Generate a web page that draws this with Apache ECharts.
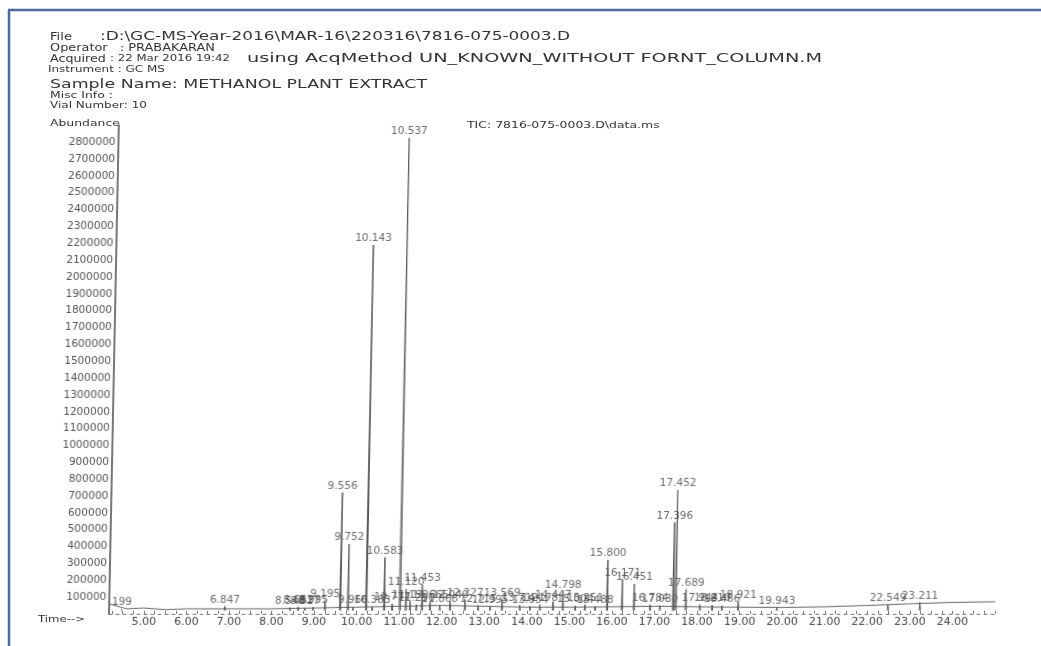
<!DOCTYPE html>
<html><head><meta charset="utf-8">
<script src="https://cdn.jsdelivr.net/npm/echarts@6/dist/echarts.min.js"></script>
<style>
html,body{margin:0;padding:0;background:#fff;}
#plot,#head{position:absolute;left:0;top:0;width:1041px;height:646px;}
#plot{transform:skewX(-1.15deg);transform-origin:0 614px;}
#head{pointer-events:none;}
</style></head><body>
<div id="plot"></div><div id="head"></div>
<script>
// ---- data ----
const peakTimes = [4.48, 6.90, 8.43, 8.62, 8.78, 8.97, 9.25, 9.61, 9.79, 9.91, 10.22, 10.36, 10.64, 10.83, 11.01, 11.15, 11.25, 11.40, 11.53, 11.72, 11.95, 12.19, 12.54, 12.85, 13.13, 13.41, 13.83, 14.07, 14.30, 14.61, 14.84, 15.13, 15.36, 15.60, 15.88, 16.23, 16.51, 16.89, 17.12, 17.43, 17.49, 17.73, 18.06, 18.35, 18.58, 18.96, 19.87, 22.48, 23.23];
const peakHeights = [30000, 45000, 38000, 42000, 36000, 40000, 80000, 720000, 415000, 40000, 2190000, 42000, 335000, 60000, 2825000, 148000, 75000, 55000, 172000, 70000, 50000, 75000, 86000, 50000, 45000, 86000, 52000, 45000, 55000, 74000, 134000, 48000, 55000, 45000, 320000, 205000, 178000, 55000, 50000, 543000, 736000, 145000, 55000, 52000, 48000, 70000, 38000, 55000, 68000];
const peakLabels = ['199', '6.847', '8.548', '8.661', '8.827', '8.995', '9.195', '9.556', '9.752', '9.966', '10.143', '10.383', '10.583', '10.777', '10.537', '11.120', '11.190', '11.290', '11.453', '11.665', '11.868', '12.040', '12.227', '12.715', '12.995', '13.569', '13.712', '13.954', '14.178', '14.447', '14.798', '15.004', '15.251', '15.488', '15.800', '16.171', '16.451', '16.784', '17.030', '17.396', '17.452', '17.689', '17.944', '18.210', '18.466', '18.921', '19.943', '22.549', '23.211'];
const baseTimes = [4.18, 4.6, 5.0, 5.5, 6.0, 7.0, 8.0, 9.0, 10.0, 11.0, 12.0, 13.0, 14.0, 15.0, 16.0, 17.0, 18.0, 19.0, 20.0, 21.0, 22.0, 23.0, 24.0, 25.0];
const baseValues = [60000, 30000, 35000, 25000, 30000, 30000, 30000, 35000, 40000, 45000, 50000, 45000, 40000, 40000, 42000, 45000, 42000, 40000, 38000, 42000, 50000, 60000, 68000, 72000];
const xTickValues = [5, 6, 7, 8, 9, 10, 11, 12, 13, 14, 15, 16, 17, 18, 19, 20, 21, 22, 23, 24];
const yTickValues = [100000, 200000, 300000, 400000, 500000, 600000, 700000, 800000, 900000, 1000000, 1100000, 1200000, 1300000, 1400000, 1500000, 1600000, 1700000, 1800000, 1900000, 2000000, 2100000, 2200000, 2300000, 2400000, 2500000, 2600000, 2700000, 2800000];
const headerTexts = ['File', ':D:\\GC-MS-Year-2016\\MAR-16\\220316\\7816-075-0003.D', 'Operator   : PRABAKARAN', 'Acquired', ': 22 Mar 2016 19:42', 'using AcqMethod UN_KNOWN_WITHOUT FORNT_COLUMN.M', 'Instrument : GC MS', 'Sample Name: METHANOL PLANT EXTRACT', 'Misc Info :', 'Vial Number: 10', 'Abundance', 'TIC: 7816-075-0003.D\\data.ms', 'Time-->'];

// ---- layout (left, centerY, target width) for header texts ----
const headerLayout = [[50,37,22],[100,37,470],[50,48,165],[50,59,56],[110,59,120],[247,59,575],[48,70,117],[50,85,377],[50,96,63],[50,106,97],[50,124,70],[467,126,193],[38,620,47]];
const STRETCH = 1.3;

const FONT = 'DejaVu Sans';
const baseData = baseTimes.map((t, i) => [t, baseValues[i]]);
const FLOOR = 20000, HALF = 0.015;
const peakLine = [];
peakTimes.forEach((t, i) => {
  peakLine.push([t - HALF, FLOOR], [t, peakHeights[i]], [t + HALF, FLOOR], null);
});
const labelData = peakTimes.map((t, i) => ({ value: [t, peakHeights[i]], name: peakLabels[i] }));
const minorTicks = [];
for (let k = 17; k <= 100; k++) minorTicks.push(k * 0.25);

const plot = echarts.init(document.getElementById('plot'), null, { renderer: 'canvas' });
plot.setOption({
  animation: false,
  backgroundColor: 'transparent',
  grid: { left: 109, right: 46, top: 125.35, bottom: 32, containLabel: false },
  xAxis: {
    type: 'value', min: 4.18, max: 25.0,
    splitLine: { show: false },
    axisLine: { show: true, onZero: false, lineStyle: { color: '#777', width: 1, type: [3, 4] } },
    axisTick: { show: true, customValues: minorTicks, length: 3, inside: true, lineStyle: { color: '#777' } },
    axisLabel: { customValues: xTickValues, formatter: v => Number(v).toFixed(2), fontFamily: FONT, fontSize: 11, color: '#444', margin: 3 }
  },
  yAxis: {
    type: 'value', min: 0, max: 2900000,
    splitLine: { show: false },
    axisLine: { show: true, lineStyle: { color: '#777', width: 2 } },
    axisTick: { show: false },
    axisLabel: { customValues: yTickValues, formatter: v => String(v), fontFamily: FONT, fontSize: 10.5, color: '#555', margin: 3 }
  },
  series: [
    { type: 'line', data: baseData, symbol: 'none', lineStyle: { color: '#666', width: 1 }, silent: true },
    { type: 'line', data: peakLine, symbol: 'none', connectNulls: false, lineStyle: { color: '#555', width: 1 }, silent: true },
    { type: 'scatter', data: labelData, symbolSize: 0, silent: true,
      label: { show: true, position: 'top', distance: 1, formatter: p => p.name, fontFamily: FONT, fontSize: 10.5, color: '#444' } }
  ]
});

// ---- header / frame ----
const cv = document.createElement('canvas').getContext('2d');
cv.font = '20px "' + FONT + '"';
const graphics = [
  { type: 'line', shape: { x1: 8, y1: 10, x2: 1041, y2: 10 }, style: { stroke: '#4d6a9c', lineWidth: 2.5 } },
  { type: 'line', shape: { x1: 9, y1: 10, x2: 9, y2: 646 }, style: { stroke: '#4d6a9c', lineWidth: 2.5 } }
];
headerTexts.forEach((txt, i) => {
  const [x, y, w] = headerLayout[i];
  const per = (cv.measureText(txt).width || 1) / 20;
  let fs = w / (per * STRETCH);
  fs = Math.max(9, Math.min(13, fs));
  const sx = w / (per * fs);
  graphics.push({ type: 'text', x: x, y: y, scaleX: sx, scaleY: 1,
    style: { text: txt, fontFamily: FONT, fontSize: fs, fill: '#333', align: 'left', verticalAlign: 'middle' } });
});
const head = echarts.init(document.getElementById('head'), null, { renderer: 'canvas' });
head.setOption({ animation: false, backgroundColor: 'transparent', graphic: graphics });
</script></body></html>
